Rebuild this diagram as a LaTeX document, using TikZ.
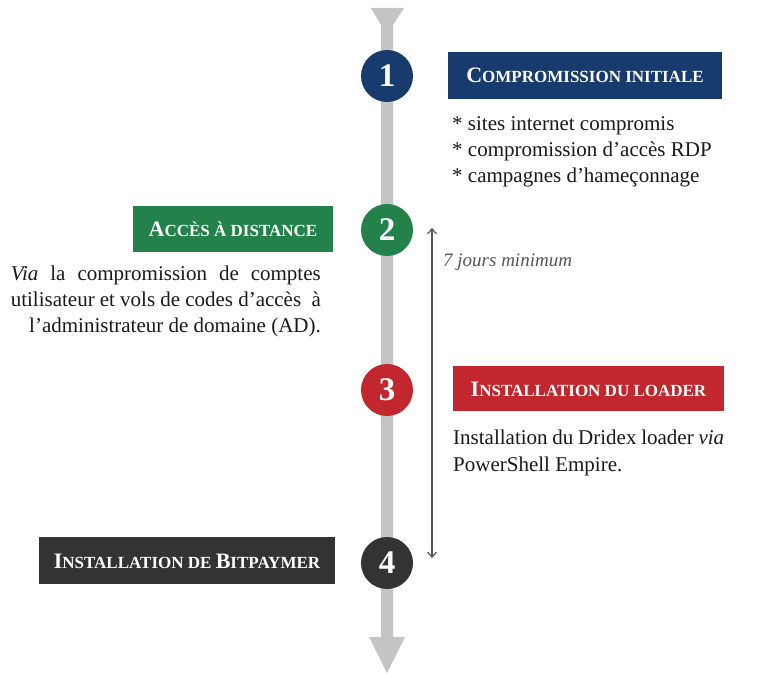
\documentclass[tikz,border=0pt]{standalone}
\usepackage{fontspec}
\setmainfont{Liberation Serif}
\usetikzlibrary{arrows.meta}
\definecolor{cblue}{HTML}{173B6C}
\definecolor{cgreen}{HTML}{22824A}
\definecolor{cred}{HTML}{C1272D}
\definecolor{cdark}{HTML}{333333}
\definecolor{cbar}{HTML}{C4C4C4}
\definecolor{cthin}{HTML}{555555}
\definecolor{ctext}{HTML}{1A1A1A}
\newcommand\tbig{\fontsize{22}{22}\selectfont}
\newcommand\tsml{\fontsize{17}{17}\selectfont}
\begin{document}
\begin{tikzpicture}[x=1pt,y=-1pt,
  num/.style={circle, minimum size=52pt, inner sep=0pt, text=white, font=\fontsize{33}{33}\selectfont\bfseries},
  titlebox/.style={inner sep=0pt, text=white, font=\tsml\bfseries, text height=15pt, text depth=0pt},
  body/.style={inner sep=0pt, text=ctext, font=\fontsize{21}{26}\selectfont, text height=14pt, text depth=5pt},
  note/.style={inner sep=0pt, text=cthin, font=\fontsize{19}{19}\selectfont\itshape, text height=13pt, text depth=4pt},
  durarrow/.style={cthin, line width=1.2pt, >={Straight Barb[length=5pt,width=9pt]}, <->}]
\useasboundingbox (0,0) rectangle (764,674);
\fill[white] (0,0) rectangle (764,674);
% timeline bar
\fill[cbar] (371,8) -- (404,8) -- (393,25) -- (393,637) -- (405,637) -- (387,673) -- (369,637) -- (381,637) -- (381,25) -- cycle;
% circles
\node[num, fill=cblue] (n1) at (387,76) {1};
\node[num, fill=cgreen] (n2) at (387,230) {2};
\node[num, fill=cred] (n3) at (387,390) {3};
\node[num, fill=cdark] (n4) at (387,563) {4};
% title boxes
\node[titlebox, fill=cblue, minimum width=274pt, minimum height=47pt] (b1) at (585,75.5) {{\tbig C}OMPROMISSION INITIALE};
\node[titlebox, fill=cgreen, minimum width=200pt, minimum height=46pt] (b2) at (233,229) {{\tbig A}CCÈS À DISTANCE};
\node[titlebox, fill=cred, minimum width=271pt, minimum height=45pt] (b3) at (588.5,388.5) {{\tbig I}NSTALLATION DU LOADER};
\node[titlebox, fill=cdark, minimum width=296pt, minimum height=47pt] (b4) at (187,560.5) {{\tbig I}NSTALLATION DE {\tbig B}ITPAYMER};
% body texts
\node[body, anchor=west] (l1a) at (452,126) {* sites internet compromis};
\node[body, anchor=west] (l1b) at (452,152) {* compromission d’accès RDP};
\node[body, anchor=west] (l1c) at (452,178) {* campagnes d’hameçonnage};
\node[body, anchor=east] (l2a) at (321,276) {\makebox[310pt][s]{\textit{Via} la compromission de comptes}};
\node[body, anchor=east] (l2b) at (321,302) {\makebox[310pt][s]{utilisateur et vols de codes d’accès \ à}};
\node[body, anchor=east] (l2c) at (321,328) {l’administrateur de domaine (AD).};
\node[body, anchor=west] (l3a) at (453,440) {\makebox[271pt][s]{Installation du Dridex loader \textit{via}}};
\node[body, anchor=west] (l3b) at (453,467) {PowerShell Empire.};
% duration arrow
\coordinate (d1) at (432,228);
\coordinate (d2) at (432,558);
\draw[durarrow] (d1) -- (d2);
\node[note, anchor=west] (dur) at (443,262) {7 jours minimum};
\end{tikzpicture}
\end{document}
